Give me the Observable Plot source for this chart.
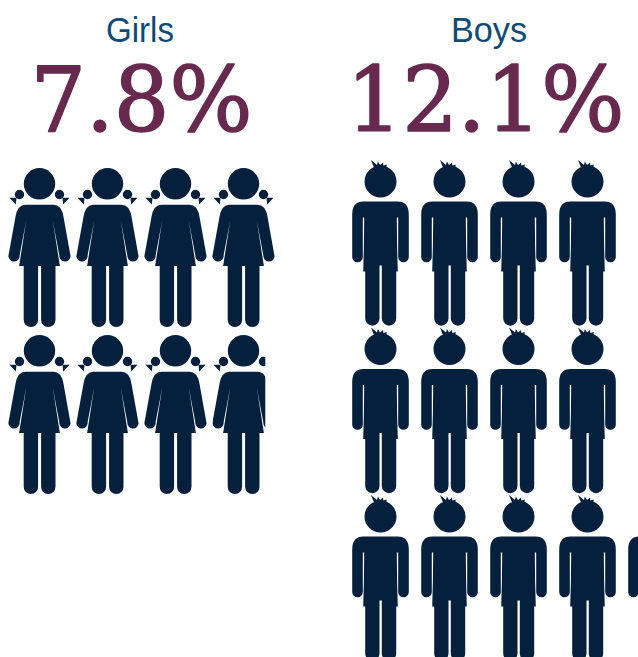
<!DOCTYPE html>
<html>
<head>
<meta charset="utf-8">
<script src="https://cdn.jsdelivr.net/npm/d3@7"></script>
<script src="https://cdn.jsdelivr.net/npm/@observablehq/plot@0.6"></script>
<style>html,body{margin:0;padding:0;background:#fff;overflow:hidden}</style>
</head>
<body>
<div id="chart"></div>
<script>
const groups = ["Girls", "Boys"];
const percents = [7.8, 12.1];
const percentLabels = ["7.8%", "12.1%"];
const perRow = 4;
const maxRows = [2, 3];

const navy = "#05203d";

function leg(c, x0, x1, y0, yb) {
  const r = (x1 - x0) / 2;
  c.moveTo(x0, y0); c.lineTo(x1, y0); c.lineTo(x1, yb);
  c.arc((x0 + x1) / 2, yb, r, 0, Math.PI);
  c.closePath();
}
function disc(c, x, y, r) {
  c.moveTo(x + r, y); c.arc(x, y, r, 0, 2 * Math.PI); c.closePath();
}
const girlSymbol = {
  draw(c) {
    disc(c, 0, 0, 15.7);
    disc(c, -20, 10.7, 4.7);
    disc(c, 20, 10.7, 4.7);
    c.moveTo(-30, 14); c.lineTo(-23, 14); c.lineTo(-23.7, 20.7); c.closePath();
    c.moveTo(23, 14); c.lineTo(30, 14); c.lineTo(23.7, 20.7); c.closePath();
    c.moveTo(-14, 21); c.lineTo(14, 21);
    c.quadraticCurveTo(22, 21, 24, 33);
    c.lineTo(31.1, 72.6);
    c.arc(25.5, 72, 5.7, 0.1, Math.PI + 0.1);
    c.lineTo(13.3, 37); c.lineTo(20.4, 82.3); c.lineTo(-20.4, 82.3); c.lineTo(-13.3, 37);
    c.lineTo(-19.9, 71.4);
    c.arc(-25.5, 72, 5.7, -0.1, Math.PI - 0.1);
    c.lineTo(-24, 33);
    c.quadraticCurveTo(-22, 21, -14, 21);
    c.closePath();
    leg(c, -15.8, -1.4, 80, 136);
    leg(c, 1.6, 16, 80, 136);
  }
};
const boySymbol = {
  draw(c) {
    disc(c, 0, 0, 16);
    c.moveTo(-6.5, -14); c.lineTo(-9.5, -21.5); c.lineTo(-3.5, -16.5); c.lineTo(-2.6, -20);
    c.lineTo(-0.5, -16.5); c.lineTo(2.6, -19); c.lineTo(2.8, -16); c.lineTo(6.3, -17); c.lineTo(5.5, -13);
    c.closePath();
    c.moveTo(-17, 20); c.lineTo(17, 20);
    c.quadraticCurveTo(28.3, 20, 28.3, 33);
    c.lineTo(28.3, 75.4);
    c.arc(23, 75.4, 5.3, 0, Math.PI);
    c.lineTo(17.7, 36); c.lineTo(16.3, 36); c.lineTo(16.6, 64); c.lineTo(17.3, 90);
    c.lineTo(1.3, 90); c.lineTo(1.3, 84); c.lineTo(-1, 84); c.lineTo(-1, 90);
    c.lineTo(-17.3, 90); c.lineTo(-16.6, 64); c.lineTo(-16.3, 36); c.lineTo(-17.7, 36);
    c.lineTo(-17.7, 75.4);
    c.arc(-23, 75.4, 5.3, 0, Math.PI);
    c.lineTo(-28.3, 33);
    c.quadraticCurveTo(-28.3, 20, -17, 20);
    c.closePath();
    leg(c, -15.3, -1, 84, 137);
    leg(c, 1.3, 15.7, 84, 137);
  }
};

// layout of each group's people in page units
const layouts = [
  {x0: 39, dx: 68, y0: 183.3, dy: 167},
  {x0: 380, dx: 69, y0: 181, dy: 167.5}
];
const people = groups.map((g, k) => d3.range(Math.ceil(percents[k])).map(i => {
  const row = Math.min(Math.floor(i / perRow), maxRows[k] - 1);
  const col = i - row * perRow;
  const share = Math.min(1, percents[k] - i);
  return {
    group: g, share,
    x: layouts[k].x0 + col * layouts[k].dx,
    y: layouts[k].y0 + row * layouts[k].dy
  };
}));
const girlsWhole = people[0].filter(d => d.share === 1);
const girlsPartial = people[0].filter(d => d.share < 1);
const boys = people[1];

// clip a partial person to its share of the icon's cell
function clipToShare(index, scales, values, dimensions, context, next) {
  const g = next(index, scales, values, dimensions, context);
  const d = girlsPartial[0];
  const left = scales.x(d.x - 31);
  const w = scales.x(d.x - 31 + 66 * d.share) - left;
  const id = "share-clip";
  const svg = d3.select(g);
  svg.append("clipPath").attr("id", id).append("rect")
    .attr("x", left).attr("y", 0).attr("width", w).attr("height", dimensions.height);
  svg.attr("clip-path", `url(#${id})`);
  return g;
}

// fit a text to the reference's set width
const squeeze = (widths) => (index, scales, values, dimensions, context, next) => {
  const g = next(index, scales, values, dimensions, context);
  d3.select(g).selectAll("text")
    .attr("textLength", (_, i) => widths[index[i]])
    .attr("lengthAdjust", "spacingAndGlyphs");
  return g;
};

const titleData = groups.map((g, k) => ({g, x: [139.5, 488.5][k]}));
const pctData = percentLabels.map((p, k) => ({p, x: [141, 485][k]}));

const plot = Plot.plot({
  width: 638,
  height: 657,
  margin: 0,
  x: {domain: [0, 638], range: [0, 638], axis: null},
  y: {domain: [0, 657], range: [0, 657], axis: null},
  style: {background: "#fff"},
  marks: [
    Plot.text(titleData, {x: "x", y: 30, text: "g", fontSize: 35, fill: "#0e4a74",
      fontFamily: "Liberation Sans", textAnchor: "middle", lineAnchor: "middle",
      render: squeeze([68, 76])}),
    Plot.text(pctData, {x: "x", y: 102, text: "p", fontSize: 89, fill: "#672a4e",
      stroke: "#672a4e", strokeWidth: 1.6,
      fontFamily: "DejaVu Serif", textAnchor: "middle", lineAnchor: "middle",
      render: squeeze([222, 278])}),
    Plot.dot(girlsWhole, {x: "x", y: "y", symbol: girlSymbol, fill: navy, r: 5}),
    Plot.dot(girlsPartial, {x: "x", y: "y", symbol: girlSymbol, fill: navy, r: 5, render: clipToShare}),
    Plot.dot(boys, {x: "x", y: "y", symbol: boySymbol, fill: navy, r: 5})
  ]
});
document.getElementById("chart").appendChild(plot);
</script>
</body>
</html>
